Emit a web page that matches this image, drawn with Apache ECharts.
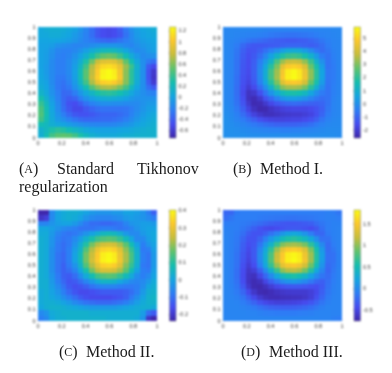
<!DOCTYPE html>
<html><head><meta charset="utf-8">
<script src="https://cdn.jsdelivr.net/npm/echarts@6/dist/echarts.min.js"></script>
<style>html,body{margin:0;padding:0;background:#fff}
#c,#t{position:absolute;left:0;top:0;width:392px;height:373px}
#c{filter:blur(0.8px)}#t{filter:blur(0.3px)}</style>
</head><body><div id="c"></div><div id="t"></div>
<script>
// Rows run from y = 1 (top) to y = 0 (bottom), columns from x = 0 to x = 1.
const panelA = [
[.05,.08,.1,.1,.08,.05,0,-.08,-.18,-.3,-.42,-.48,-.5,-.48,-.4,-.25,-.12,-.03,.02,.05,.08],
[.05,.05,.08,.08,.05,.02,-.05,-.12,-.2,-.3,-.42,-.48,-.5,-.48,-.42,-.28,-.15,-.05,0,.03,.05],
[.02,.02,.03,.02,0,-.03,-.08,-.14,-.2,-.25,-.3,-.33,-.35,-.33,-.28,-.22,-.15,-.08,-.03,0,.02],
[0,0,-.03,-.1,-.13,-.15,-.18,-.18,-.16,-.13,-.1,-.08,-.08,-.08,-.1,-.15,-.18,-.12,-.07,-.03,0],
[0,-.02,-.1,-.18,-.2,-.2,-.16,-.1,-.02,.08,.15,.2,.22,.2,.13,.03,-.08,-.15,-.12,-.05,-.02],
[0,-.03,-.12,-.2,-.22,-.18,-.1,0,.12,.28,.42,.52,.55,.52,.4,.25,.08,-.05,-.14,-.12,-.1],
[0,-.03,-.15,-.22,-.22,-.15,-.05,.1,.3,.55,.78,.88,.9,.87,.75,.52,.27,.05,-.12,-.25,-.3],
[0,-.05,-.15,-.22,-.22,-.15,-.02,.18,.42,.72,.95,1.1,1.13,1.08,.92,.65,.4,.12,-.12,-.4,-.5],
[.02,-.05,-.15,-.22,-.22,-.15,0,.24,.5,.75,1.03,1.22,1.27,1.2,.98,.62,.35,.1,-.12,-.45,-.6],
[.03,-.03,-.15,-.24,-.25,-.17,-.01,.24,.5,.78,1.05,1.24,1.27,1.22,1,.62,.35,.1,-.12,-.45,-.62],
[.05,0,-.14,-.25,-.28,-.2,-.04,.18,.42,.7,.93,1.05,1.08,1.03,.88,.6,.35,.08,-.12,-.4,-.58],
[.08,.02,-.12,-.25,-.3,-.25,-.1,.06,.25,.47,.62,.7,.72,.68,.58,.42,.2,.02,-.12,-.3,-.4],
[.15,.05,-.1,-.22,-.33,-.32,-.22,-.08,.05,.17,.28,.33,.35,.32,.27,.17,.05,-.05,-.12,-.18,-.2],
[.28,.12,-.05,-.2,-.33,-.4,-.35,-.22,-.1,-.02,.05,.08,.1,.08,.05,0,-.06,-.1,-.1,-.1,-.1],
[.38,.2,0,-.16,-.32,-.45,-.48,-.4,-.28,-.2,-.15,-.12,-.12,-.13,-.13,-.15,-.15,-.15,-.1,-.05,-.05],
[.45,.25,.03,-.14,-.3,-.42,-.5,-.5,-.42,-.35,-.3,-.28,-.28,-.28,-.28,-.27,-.22,-.15,-.08,-.02,0],
[.47,.27,.05,-.1,-.22,-.33,-.42,-.45,-.45,-.42,-.38,-.35,-.35,-.35,-.32,-.28,-.2,-.12,-.04,.02,.05],
[.42,.25,.07,-.05,-.12,-.2,-.27,-.32,-.34,-.34,-.33,-.32,-.32,-.3,-.27,-.22,-.14,-.07,0,.05,.08],
[.25,.2,.1,.05,.02,-.03,-.08,-.12,-.15,-.17,-.18,-.18,-.18,-.17,-.14,-.1,-.06,0,.04,.08,.1],
[.12,.2,.3,.35,.32,.25,.18,.12,.06,.02,0,0,0,0,.02,.03,.05,.08,.1,.12,.12],
[.1,.25,.42,.5,.52,.5,.42,.3,.2,.12,.08,.06,.06,.06,.08,.1,.1,.12,.12,.12,.12]
];
const panelB = [
[-.2,-.2,-.2,-.2,-.2,-.2,-.2,-.25,-.3,-.3,-.3,-.3,-.3,-.3,-.3,-.3,-.25,-.25,-.25,-.2,-.2],
[-.2,-.2,-.25,-.3,-.35,-.35,-.4,-.45,-.55,-.6,-.65,-.7,-.7,-.65,-.6,-.55,-.45,-.35,-.3,-.25,-.2],
[-.2,-.25,-.35,-.5,-.65,-.75,-.85,-.95,-1.05,-1.15,-1.2,-1.25,-1.25,-1.2,-1.15,-1,-.85,-.6,-.4,-.3,-.25],
[-.2,-.3,-.5,-.9,-1.2,-1.3,-1.3,-1.25,-1.2,-1.15,-1.05,-1,-1,-1,-1.05,-1.15,-1.05,-.8,-.5,-.3,-.25],
[-.2,-.3,-.6,-1.1,-1.4,-1.35,-1.1,-.75,-.4,0,.4,.75,.85,.75,.35,-.1,-.6,-.85,-.6,-.35,-.25],
[-.2,-.3,-.65,-1.2,-1.5,-1.25,-.8,-.2,.5,1.2,1.8,2.15,2.25,2.1,1.7,1.05,.3,-.45,-.7,-.4,-.25],
[-.2,-.3,-.7,-1.25,-1.55,-1.15,-.45,.3,1.2,2.4,3.3,3.8,3.9,3.75,3.2,2.2,1.05,.05,-.7,-.45,-.25],
[-.2,-.3,-.7,-1.3,-1.55,-1.1,-.25,.7,1.9,3,4.3,4.85,5,4.8,4.1,2.8,1.7,.4,-.7,-.5,-.25],
[-.2,-.3,-.7,-1.35,-1.6,-1.1,-.15,.9,2.3,3.35,4.7,5.6,5.85,5.5,4.5,3.2,1.95,.6,-.6,-.5,-.25],
[-.2,-.3,-.75,-1.4,-1.65,-1.15,-.2,.9,2.3,3.4,4.8,5.65,5.9,5.55,4.55,3.2,1.95,.55,-.6,-.5,-.25],
[-.2,-.3,-.75,-1.45,-1.75,-1.3,-.4,.6,1.9,3,4.2,4.75,4.85,4.7,4,2.75,1.7,.35,-.65,-.45,-.25],
[-.2,-.3,-.8,-1.55,-1.95,-1.6,-.85,0,1.05,2.2,3.1,3.4,3.45,3.35,2.9,1.95,.95,-.05,-.7,-.4,-.25],
[-.2,-.3,-.8,-1.6,-2.2,-2.05,-1.45,-.7,.1,.8,1.4,1.7,1.75,1.65,1.3,.65,0,-.5,-.7,-.4,-.25],
[-.2,-.3,-.75,-1.5,-2.25,-2.4,-2.05,-1.4,-.9,-.35,.1,.35,.4,.3,.05,-.3,-.6,-.8,-.7,-.35,-.2],
[-.15,-.25,-.7,-1.35,-2.05,-2.45,-2.4,-2.05,-1.65,-1.3,-1.05,-.9,-.85,-.9,-1,-1.05,-1.1,-1,-.7,-.3,-.2],
[-.1,-.2,-.55,-1.1,-1.75,-2.25,-2.5,-2.45,-2.2,-2,-1.85,-1.75,-1.7,-1.7,-1.7,-1.6,-1.4,-1.1,-.6,-.3,-.2],
[-.05,-.15,-.4,-.8,-1.3,-1.8,-2.1,-2.3,-2.3,-2.2,-2.1,-2.05,-2,-2,-1.9,-1.75,-1.45,-1,-.5,-.25,-.2],
[0,-.1,-.3,-.5,-.8,-1.1,-1.45,-1.65,-1.75,-1.8,-1.8,-1.75,-1.7,-1.7,-1.6,-1.4,-1.1,-.65,-.35,-.2,-.15],
[0,-.05,-.15,-.25,-.4,-.55,-.7,-.85,-.95,-1.05,-1.05,-1.05,-1.05,-1,-.9,-.75,-.55,-.35,-.2,-.15,-.15],
[0,0,-.05,-.1,-.15,-.2,-.25,-.3,-.35,-.35,-.4,-.4,-.35,-.35,-.3,-.25,-.2,-.15,-.1,-.1,-.1],
[0,0,0,0,-.05,-.05,-.05,-.05,-.05,-.05,-.05,-.05,-.05,-.05,-.05,-.05,-.05,-.05,-.05,-.05,-.1]
];
const panelC = [
[-.23,-.23,-.05,0,.02,.03,.03,.02,0,-.02,-.03,-.03,-.03,-.02,-.02,0,0,-.01,-.03,-.07,-.12],
[-.2,-.18,-.05,0,.02,.03,.02,0,-.03,-.05,-.06,-.06,-.06,-.05,-.04,-.02,-.01,-.02,-.03,-.05,-.07],
[-.06,-.06,-.03,-.01,0,0,-.02,-.05,-.08,-.1,-.1,-.11,-.11,-.1,-.09,-.06,-.03,-.02,-.01,-.01,-.02],
[.01,.01,-.01,-.03,-.05,-.06,-.07,-.09,-.09,-.09,-.08,-.07,-.07,-.08,-.09,-.08,-.06,-.03,-.01,0,0],
[.02,.02,-.02,-.06,-.08,-.09,-.08,-.06,-.03,0,.03,.06,.07,.06,.03,-.02,-.05,-.05,-.02,0,.01],
[.03,.02,-.03,-.07,-.09,-.08,-.05,-.01,.04,.09,.13,.15,.16,.15,.12,.07,.01,-.05,-.05,-.01,.01],
[.03,.02,-.03,-.08,-.1,-.08,-.03,.03,.1,.18,.23,.26,.27,.26,.22,.16,.08,0,-.07,-.03,0],
[.03,.02,-.04,-.08,-.1,-.07,-.01,.05,.15,.23,.3,.34,.35,.335,.28,.2,.12,.03,-.08,-.07,-.01],
[.03,.02,-.04,-.09,-.11,-.07,0,.07,.18,.25,.325,.385,.4,.38,.3,.22,.14,.04,-.07,-.09,-.02],
[.03,.02,-.04,-.09,-.11,-.07,0,.07,.18,.26,.33,.39,.405,.385,.305,.22,.14,.04,-.07,-.09,-.02],
[.03,.02,-.04,-.09,-.12,-.08,-.03,.05,.15,.23,.29,.335,.345,.33,.275,.19,.12,.03,-.08,-.09,-.02],
[.03,.02,-.04,-.09,-.12,-.1,-.06,.01,.09,.18,.24,.27,.27,.26,.22,.16,.08,0,-.07,-.08,-.01],
[.03,.02,-.03,-.08,-.12,-.13,-.1,-.04,.02,.08,.13,.15,.16,.15,.12,.07,.02,-.04,-.07,-.05,0],
[.03,.03,-.02,-.07,-.11,-.14,-.13,-.1,-.06,-.02,.02,.05,.05,.04,.01,-.02,-.05,-.06,-.05,-.02,.02],
[.03,.03,-.01,-.05,-.09,-.13,-.15,-.14,-.12,-.09,-.07,-.06,-.06,-.06,-.07,-.08,-.08,-.07,-.04,.01,.03],
[.02,.03,0,-.03,-.07,-.11,-.14,-.16,-.16,-.15,-.14,-.13,-.13,-.13,-.13,-.12,-.1,-.07,-.02,.03,.04],
[.02,.03,.01,-.01,-.04,-.07,-.1,-.13,-.15,-.16,-.16,-.16,-.16,-.15,-.14,-.12,-.08,-.04,0,.04,.05],
[.02,.03,.03,.02,0,-.02,-.05,-.07,-.09,-.1,-.11,-.11,-.11,-.1,-.09,-.07,-.04,-.01,.02,.04,.04],
[.01,.03,.04,.04,.03,.02,.01,0,-.01,-.02,-.02,-.02,-.02,-.02,-.01,0,.01,.02,.03,.03,.02],
[-.05,-.03,.02,.03,.04,.04,.04,.04,.04,.03,.03,.03,.03,.03,.03,.03,.03,.03,-.01,-.1,-.13],
[-.07,-.05,.01,.03,.03,.04,.04,.04,.04,.04,.04,.04,.03,.03,.03,.03,.03,.02,-.03,-.2,-.23]
];
const panelD = [
[-.25,-.25,-.12,-.1,-.1,-.1,-.1,-.1,-.1,-.1,-.1,-.1,-.1,-.1,-.1,-.1,-.1,-.1,-.08,-.1,-.15],
[-.2,-.15,-.1,-.1,-.1,-.1,-.12,-.13,-.14,-.15,-.16,-.17,-.17,-.16,-.15,-.14,-.12,-.1,-.08,-.08,-.1],
[-.1,-.1,-.1,-.12,-.14,-.18,-.22,-.26,-.3,-.33,-.35,-.36,-.36,-.35,-.33,-.3,-.22,-.15,-.1,-.07,-.07],
[-.07,-.08,-.1,-.15,-.22,-.3,-.38,-.44,-.45,-.42,-.38,-.35,-.34,-.35,-.38,-.42,-.35,-.2,-.1,-.07,-.06],
[-.06,-.08,-.12,-.2,-.32,-.38,-.38,-.3,-.18,-.05,.1,.2,.25,.2,.08,-.1,-.25,-.25,-.12,-.07,-.06],
[-.05,-.08,-.13,-.26,-.38,-.38,-.27,-.08,.12,.3,.48,.58,.62,.57,.45,.26,.03,-.18,-.18,-.08,-.06],
[-.05,-.08,-.14,-.3,-.42,-.36,-.15,.12,.38,.7,.96,1.05,1.08,1.04,.93,.65,.33,0,-.22,-.1,-.06],
[-.05,-.08,-.15,-.32,-.45,-.34,-.05,.27,.65,1.05,1.36,1.5,1.54,1.48,1.3,.95,.55,.12,-.22,-.14,-.06],
[-.05,-.08,-.17,-.35,-.48,-.34,0,.33,.78,1.2,1.5,1.74,1.8,1.72,1.42,1.05,.6,.17,-.2,-.18,-.07],
[-.05,-.08,-.17,-.37,-.5,-.36,-.02,.33,.8,1.22,1.52,1.76,1.83,1.74,1.45,1.05,.6,.15,-.2,-.18,-.07],
[-.05,-.08,-.18,-.4,-.55,-.42,-.1,.25,.68,1.05,1.35,1.47,1.5,1.44,1.25,.9,.5,.08,-.23,-.16,-.07],
[-.04,-.08,-.2,-.43,-.6,-.53,-.3,0,.35,.7,1,1.12,1.15,1.1,.92,.62,.25,-.03,-.25,-.14,-.06],
[-.04,-.08,-.2,-.44,-.62,-.65,-.48,-.25,0,.25,.45,.55,.58,.52,.4,.2,0,-.15,-.22,-.12,-.06],
[-.04,-.08,-.18,-.42,-.63,-.7,-.65,-.48,-.3,-.15,0,.08,.12,.07,-.02,-.14,-.25,-.3,-.2,-.1,-.05],
[-.04,-.07,-.15,-.35,-.58,-.7,-.72,-.65,-.55,-.46,-.4,-.36,-.34,-.35,-.37,-.4,-.42,-.33,-.18,-.08,-.05],
[-.04,-.06,-.12,-.25,-.45,-.6,-.7,-.72,-.68,-.63,-.6,-.58,-.57,-.57,-.57,-.53,-.45,-.3,-.15,-.07,-.05],
[-.04,-.05,-.08,-.16,-.3,-.45,-.57,-.65,-.68,-.68,-.66,-.65,-.64,-.63,-.6,-.53,-.4,-.25,-.12,-.06,-.05],
[-.04,-.04,-.05,-.1,-.17,-.27,-.38,-.46,-.5,-.53,-.53,-.52,-.5,-.48,-.44,-.37,-.27,-.16,-.08,-.05,-.05],
[-.04,-.04,-.04,-.06,-.08,-.12,-.18,-.23,-.27,-.29,-.3,-.3,-.29,-.27,-.24,-.2,-.14,-.08,-.05,-.05,-.05],
[-.04,-.04,-.04,-.04,-.05,-.05,-.07,-.09,-.1,-.11,-.11,-.11,-.11,-.1,-.09,-.08,-.06,-.05,-.05,-.06,-.06],
[-.04,-.04,-.04,-.04,-.04,-.04,-.04,-.04,-.04,-.04,-.04,-.04,-.04,-.04,-.04,-.04,-.04,-.05,-.05,-.08,-.1]
];
const rangeA = [-0.73, 1.27], rangeB = [-2.6, 5.9], rangeC = [-0.235, 0.405], rangeD = [-0.75, 1.83];
const ticksA = [-0.6, -0.4, -0.2, 0, 0.2, 0.4, 0.6, 0.8, 1, 1.2];
const ticksB = [-2, -1, 0, 1, 2, 3, 4, 5];
const ticksC = [-0.2, -0.1, 0, 0.1, 0.2, 0.3, 0.4];
const ticksD = [-0.5, 0, 0.5, 1, 1.5];
const parula = ['#3e26a8','#464cf0','#2d7df5','#14a5e1','#14beaf','#5fc36e','#c8be3c','#fcc82d','#f9fb15'];

const layouts = [
  {left: 38, top: 27, barLeft: 169.5, values: panelA, range: rangeA, ticks: ticksA},
  {left: 223, top: 27, barLeft: 354, values: panelB, range: rangeB, ticks: ticksB},
  {left: 38, top: 210, barLeft: 169.5, values: panelC, range: rangeC, ticks: ticksC},
  {left: 223, top: 210, barLeft: 354, values: panelD, range: rangeD, ticks: ticksD}
];
const W = 119, H = 111, BW = 6.5;
const AXC = '#5c5c5c', FONT = '"Liberation Sans", Arial, sans-serif';
const grid = [], xAxis = [], yAxis = [], series = [], visualMap = [];

function cellItem(params, api) {
  const n = 21;
  const x = api.value(0), y = api.value(1), h = 0.5 / n;
  const a = api.coord([x - h, y + h]), b = api.coord([x + h, y - h]);
  const x0 = Math.round(a[0]), y0 = Math.round(a[1]), x1 = Math.round(b[0]), y1 = Math.round(b[1]);
  return {type: 'rect', shape: {x: x0, y: y0, width: x1 - x0, height: y1 - y0},
    style: {fill: api.visual('color')}};
}
function barItem(params, api) {
  const a = api.coord([0, api.value(1)]), b = api.coord([1, api.value(0)]);
  return {type: 'rect', shape: {x: a[0], y: a[1], width: b[0] - a[0], height: b[1] - a[1]},
    style: {stroke: 'rgba(70,70,70,0.55)', lineWidth: 0.6,
      fill: new echarts.graphic.LinearGradient(0, 1, 0, 0,
        parula.map((color, i) => ({offset: i / (parula.length - 1), color})))}};
}

layouts.forEach((p, k) => {
  grid.push({left: p.left, top: p.top, width: W, height: H});
  grid.push({left: p.barLeft, top: p.top, width: BW, height: H});
  const lab = {fontSize: 5.5, color: '#333', fontFamily: FONT};
  xAxis.push({gridIndex: 2 * k, type: 'value', min: 0, max: 1, interval: 0.2, splitLine: {show: false},
    axisLine: {show: false}, axisTick: {show: true, inside: true, length: 1.2, lineStyle: {color: AXC, width: 0.4}},
    axisLabel: Object.assign({margin: 2.5, showMinLabel: true, showMaxLabel: true}, lab)});
  yAxis.push({gridIndex: 2 * k, type: 'value', min: 0, max: 1, interval: 0.1, splitLine: {show: false},
    axisLine: {show: false}, axisTick: {show: true, inside: true, length: 1.2, lineStyle: {color: AXC, width: 0.4}},
    axisLabel: Object.assign({margin: 2.5, showMinLabel: true, showMaxLabel: true}, lab)});
  xAxis.push({gridIndex: 2 * k + 1, type: 'value', min: 0, max: 1, show: false});
  yAxis.push({gridIndex: 2 * k + 1, type: 'value', position: 'right', min: p.range[0], max: p.range[1],
    splitLine: {show: false}, axisLine: {show: false},
    axisTick: {show: true, inside: true, length: 1.2, customValues: p.ticks, lineStyle: {color: AXC, width: 0.4}},
    axisLabel: Object.assign({margin: 2.5, customValues: p.ticks}, lab)});

  const data = [];
  p.values.forEach((row, j) => row.forEach((v, i) => data.push([(i + 0.5) / 21, 1 - (j + 0.5) / 21, v])));
  visualMap.push({show: false, type: 'continuous', seriesIndex: 2 * k, dimension: 2,
    min: p.range[0], max: p.range[1], inRange: {color: parula}});
  series.push({type: 'custom', xAxisIndex: 2 * k, yAxisIndex: 2 * k, data, renderItem: cellItem,
    clip: true, silent: true, animation: false, encode: {x: 0, y: 1}});
  series.push({type: 'custom', xAxisIndex: 2 * k + 1, yAxisIndex: 2 * k + 1, data: [[p.range[0], p.range[1]]],
    renderItem: barItem, silent: true, animation: false, encode: {y: [0, 1]}});
});

const serif = '"Liberation Serif", "Times New Roman", serif';
function cap(text, x, y) {
  return {type: 'text', x, y, silent: true, style: {
    text, fontFamily: serif, fontSize: 16, fill: '#1c1c1c', verticalAlign: 'middle',
    rich: {
      s: {fontFamily: serif, fontSize: 12, fill: '#1c1c1c', verticalAlign: 'middle'},
      n: {fontFamily: serif, fontSize: 16, fill: '#1c1c1c', verticalAlign: 'middle'}
    }}};
}
const graphic = [
  cap('{n|(}{s|A}{n|)}', 19, 170), cap('{n|Standard}', 57, 170), cap('{n|Tikhonov}', 137, 170),
  cap('{n|regularization}', 19, 188),
  cap('{n|(}{s|B}{n|)}', 233, 170), cap('{n|Method I.}', 260, 170),
  cap('{n|(}{s|C}{n|)}', 59, 353), cap('{n|Method II.}', 86, 353),
  cap('{n|(}{s|D}{n|)}', 241, 353), cap('{n|Method III.}', 269, 353)
];

const chart = echarts.init(document.getElementById('c'), null, {renderer: 'canvas'});
chart.setOption({animation: false, grid, xAxis, yAxis, visualMap, series});
const caps = echarts.init(document.getElementById('t'), null, {renderer: 'canvas'});
caps.setOption({animation: false, graphic});
</script></body></html>
